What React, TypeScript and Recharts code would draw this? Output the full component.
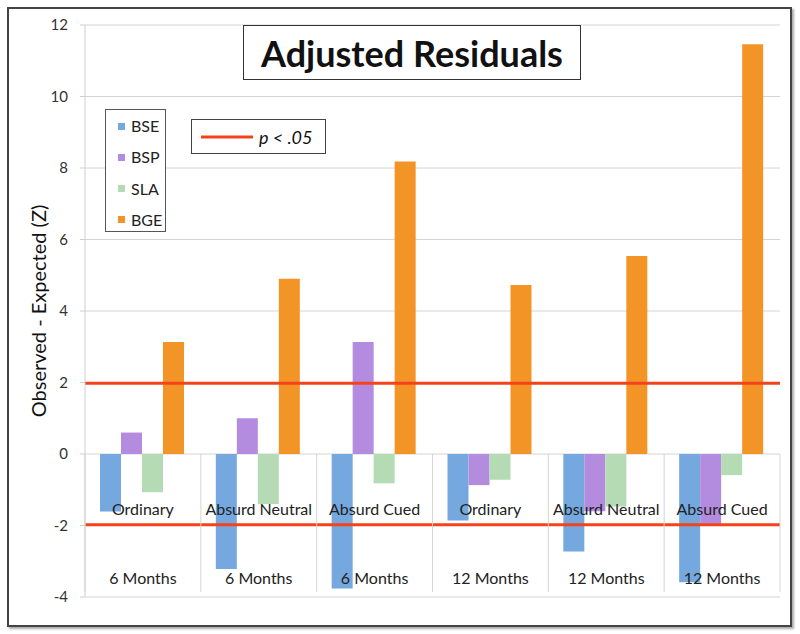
import React from 'react';
import { BarChart, Bar, XAxis, YAxis, CartesianGrid, ReferenceLine, Legend } from 'recharts';

const categories = ['Ordinary', 'Absurd Neutral', 'Absurd Cued', 'Ordinary', 'Absurd Neutral', 'Absurd Cued'];
const periods = ['6 Months', '6 Months', '6 Months', '12 Months', '12 Months', '12 Months'];
const bse = [-1.61, -3.22, -3.76, -1.86, -2.73, -3.59];
const bsp = [0.6, 1.0, 3.13, -0.87, -1.6, -1.96];
const sla = [-1.07, -1.4, -0.82, -0.72, -1.47, -0.59];
const bge = [3.13, 4.9, 8.18, 4.73, 5.54, 11.46];
const yTicks = [-4, -2, 0, 2, 4, 6, 8, 10, 12];
const threshold = 1.98;

const seriesNames = ['BSE', 'BSP', 'SLA', 'BGE'];
const seriesColors = ['#74a8de', '#b38ce0', '#b5dbb5', '#f39426'];

const data = categories.map((c, i) => ({
  key: String(i),
  BSE: bse[i],
  BSP: bsp[i],
  SLA: sla[i],
  BGE: bge[i],
}));

const FONT = 'Lato, "Open Sans", sans-serif';

const renderCategoryTick = (props: any) => {
  const { x, y, payload, width, visibleTicksCount } = props;
  const i = Number(payload.value);
  const half =
    payload && typeof payload.offset === 'number' && payload.offset > 0
      ? payload.offset
      : width / (visibleTicksCount || categories.length) / 2;
  const isLast = i === categories.length - 1;
  return (
    <g>
      <line x1={x - half} y1={y - 143} x2={x - half} y2={y - 5} stroke="#d4d4d4" strokeWidth={1} />
      {isLast && <line x1={x + half} y1={y - 143} x2={x + half} y2={y - 5} stroke="#d4d4d4" strokeWidth={1} />}
      <text x={x} y={y - 89} textAnchor="middle" dominantBaseline="central" fontSize={16} fill="#222" fontFamily={FONT}>
        {categories[i]}
      </text>
      <text x={x} y={y - 20} textAnchor="middle" dominantBaseline="central" fontSize={16} fill="#222" fontFamily={FONT}>
        {periods[i]}
      </text>
    </g>
  );
};

const LegendBox = (props: any) => {
  const payload = [...(props.payload || [])].sort(
    (a: any, b: any) => seriesNames.indexOf(a.value) - seriesNames.indexOf(b.value)
  );
  return (
    <div style={{ position: 'relative', width: 59, height: 121, border: '1px solid #555', background: '#fff', boxSizing: 'content-box', fontFamily: FONT }}>
      {payload.map((p: any, i: number) => (
        <div key={i} style={{ position: 'absolute', left: 12, top: 10 + i * 31.3, height: 12, display: 'flex', alignItems: 'center' }}>
          <div style={{ width: 7, height: 7, background: p.color, marginRight: 6 }} />
          <span style={{ fontSize: 16, color: '#222', lineHeight: '12px' }}>{p.value}</span>
        </div>
      ))}
    </div>
  );
};

const YLabel = (props: any) => {
  const vb = props.viewBox || { x: 0, y: 25, width: 85, height: 572 };
  const cx = vb.x + 38;
  const cy = vb.y + vb.height / 2;
  return (
    <text x={cx} y={cy} transform={`rotate(-90 ${cx} ${cy})`} textAnchor="middle" dominantBaseline="central" fontSize={20} fill="#111" fontFamily={FONT}>
      Observed - Expected (Z)
    </text>
  );
};

export default function App() {
  return (
    <div style={{ position: 'absolute', left: 0, top: 0, width: 800, height: 634, background: '#fff', fontFamily: FONT }}>
      <div style={{ position: 'absolute', left: 7, top: 7, width: 781, height: 616, border: '2px solid #444', boxShadow: '2px 2px 2px #aaa' }} />
      <div style={{ position: 'absolute', left: 0, top: 0 }}>
        <BarChart
          width={800}
          height={634}
          data={data}
          margin={{ top: 25, right: 20, bottom: 36, left: 0 }}
          barGap={0}
          barCategoryGap={15}
        >
          <CartesianGrid horizontal={true} vertical={false} stroke="#d4d4d4" />
          <XAxis
            dataKey="key"
            height={1}
            axisLine={false}
            tickLine={false}
            tickSize={0}
            tickMargin={0}
            tick={renderCategoryTick}
            interval={0}
          />
          <YAxis
            width={85}
            domain={[-4, 12]}
            ticks={yTicks}
            interval={0}
            axisLine={{ stroke: '#cfcfcf' }}
            tickLine={{ stroke: '#cfcfcf' }}
            tickSize={5}
            tickMargin={12}
            tick={{ fontSize: 15, fill: '#333', fontFamily: FONT }}
            label={<YLabel />}
          />
          {seriesNames.map((s, i) => (
            <Bar key={s} dataKey={s} name={s} fill={seriesColors[i]} isAnimationActive={false} />
          ))}
          <ReferenceLine y={threshold} stroke="#f4421a" strokeWidth={3} />
          <ReferenceLine y={-threshold} stroke="#f4421a" strokeWidth={3} />
          <Legend
            layout="vertical"
            align="center"
            verticalAlign="middle"
            wrapperStyle={{ left: 105, top: 109, width: 61, height: 123 }}
            content={<LegendBox />}
          />
        </BarChart>
      </div>
      <div style={{ position: 'absolute', left: 243, top: 25, width: 336, height: 53, border: '1px solid #333', background: '#fff', display: 'flex', alignItems: 'center', justifyContent: 'center' }}>
        <span style={{ fontSize: 36, fontWeight: 700, color: '#111' }}>Adjusted Residuals</span>
      </div>
      <div style={{ position: 'absolute', left: 191, top: 119, width: 133, height: 33, border: '1px solid #444', background: '#fff', display: 'flex', alignItems: 'center' }}>
        <svg width={60} height={10} style={{ marginLeft: 7 }}>
          <line x1={2} y1={5} x2={54} y2={5} stroke="#f4421a" strokeWidth={3} />
        </svg>
        <span style={{ fontSize: 18, fontStyle: 'italic', color: '#111' }}>p &lt; .05</span>
      </div>
    </div>
  );
}
